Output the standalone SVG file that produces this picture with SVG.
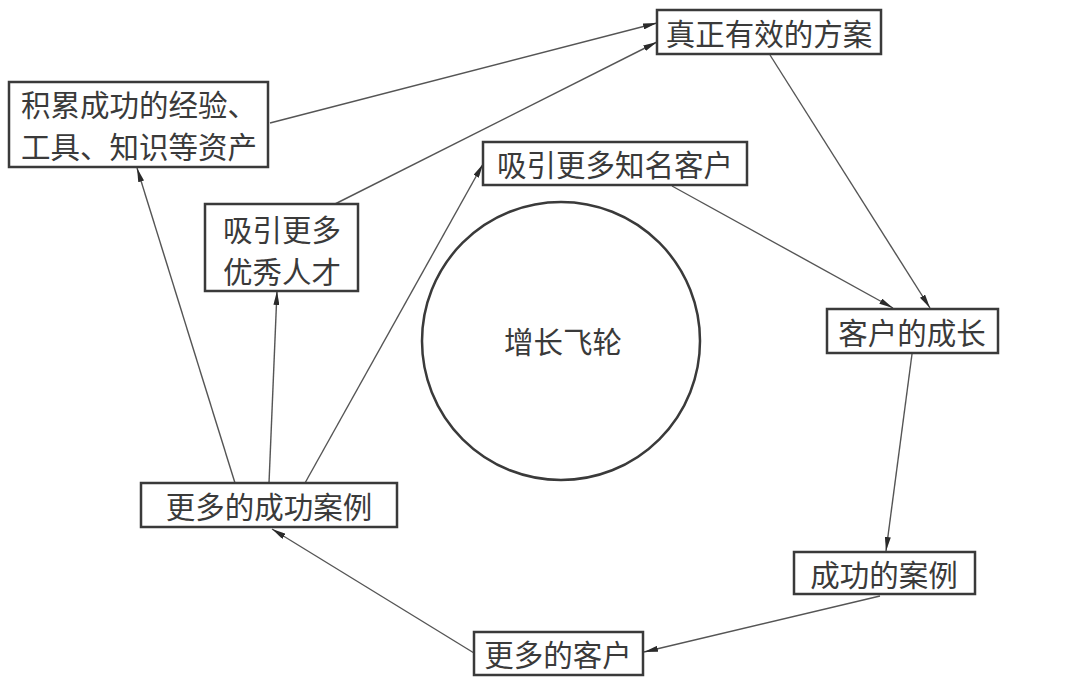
<svg xmlns="http://www.w3.org/2000/svg" width="1080" height="699" viewBox="0 0 1080 699">
<style>
.box{fill:#fff;stroke:#3a3a3a;stroke-width:2.5}
.t{font-family:"Noto Sans CJK SC","Noto Sans",sans-serif;font-size:29.5px;fill:#3a3a3a;text-anchor:middle;dominant-baseline:central}
.c{fill:none;stroke:#555;stroke-width:1.4;marker-end:url(#ah)}
</style>
<defs>
<marker id="ah" viewBox="0 0 14 6" refX="14" refY="3" markerWidth="14" markerHeight="6" markerUnits="userSpaceOnUse" orient="auto">
<path d="M0,0 L14,3 L0,6 Z" fill="#2a2a2a"/>
</marker>
</defs>
<rect width="1080" height="699" fill="#fff"/>
<g id="connectors">
<line class="c" x1="270" y1="123" x2="657" y2="23"/>
<line class="c" x1="335" y1="204" x2="657" y2="42"/>
<line class="c" x1="770" y1="55" x2="930" y2="308"/>
<line class="c" x1="672" y1="186" x2="893" y2="308"/>
<line class="c" x1="912" y1="354" x2="886" y2="551"/>
<line class="c" x1="880" y1="596" x2="644" y2="652"/>
<line class="c" x1="474" y1="653" x2="272" y2="529"/>
<line class="c" x1="235" y1="483" x2="137" y2="168"/>
<line class="c" x1="269" y1="483" x2="277" y2="291"/>
<line class="c" x1="305" y1="483" x2="483" y2="164"/>
</g>
<g id="n1"><rect class="box" x="657" y="10" width="224" height="44"/><text class="t" x="769" y="32">真正有效的方案</text></g>
<g id="n2"><rect class="box" x="9" y="82" width="259" height="85"/><text class="t" x="139" y="103">积累成功的经验、</text><text class="t" x="139" y="145">工具、知识等资产</text></g>
<g id="n3"><rect class="box" x="205" y="204" width="153" height="87"/><text class="t" x="282" y="228">吸引更多</text><text class="t" x="282" y="270">优秀人才</text></g>
<g id="n4"><rect class="box" x="483" y="142" width="264" height="43"/><text class="t" x="615" y="163">吸引更多知名客户</text></g>
<g id="n5"><rect class="box" x="827" y="309" width="171" height="44"/><text class="t" x="912" y="331">客户的成长</text></g>
<g id="n6"><rect class="box" x="141" y="483" width="256" height="44"/><text class="t" x="269" y="505">更多的成功案例</text></g>
<g id="n7"><rect class="box" x="794" y="552" width="181" height="42"/><text class="t" x="884" y="573">成功的案例</text></g>
<g id="n8"><rect class="box" x="474" y="632" width="169" height="43"/><text class="t" x="558" y="653">更多的客户</text></g>
<g id="hub"><circle cx="561" cy="341" r="139" fill="#fff" stroke="#3a3a3a" stroke-width="2.5"/><text class="t" x="563" y="340">增长飞轮</text></g>
</svg>
